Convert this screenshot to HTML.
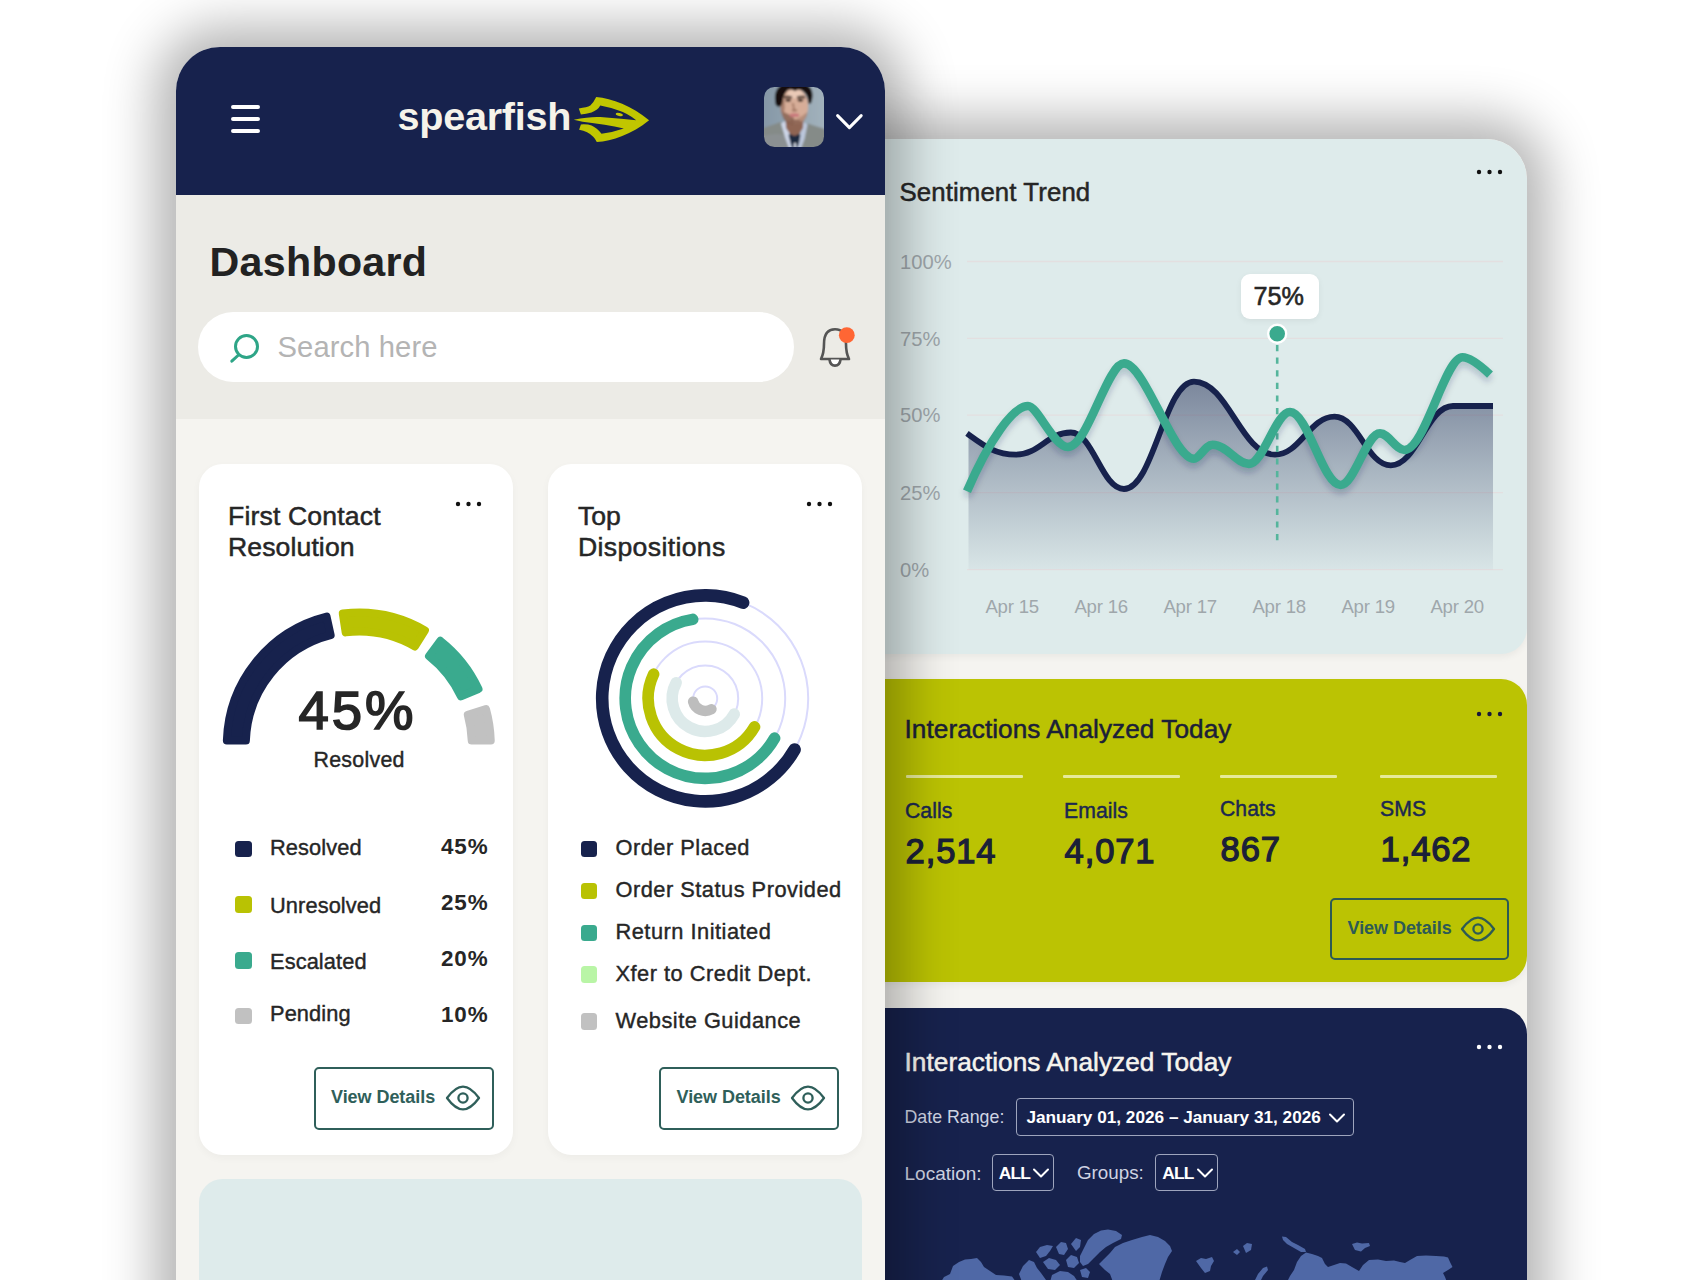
<!DOCTYPE html>
<html lang="en">
<head>
<meta charset="utf-8">
<title>Spearfish Dashboard</title>
<style>
*{box-sizing:border-box;margin:0;padding:0}
html,body{width:1700px;height:1280px;overflow:hidden;background:#fff}
body{font-family:"Liberation Sans",sans-serif;color:#222;position:relative}
.abs{position:absolute}
.t{position:absolute;white-space:nowrap;line-height:1}
#rp{position:absolute;left:760px;top:139px;width:767px;height:1200px;background:#f5f4f0;border-top-right-radius:40px;box-shadow:0 0 52px 20px rgba(0,0,0,.30);overflow:hidden}
#ph{position:absolute;left:176px;top:47px;width:709px;height:1300px;background:#f5f4f0;border-radius:44px 44px 0 0;box-shadow:0 0 52px 20px rgba(0,0,0,.30);overflow:hidden}
</style>
</head>
<body>
<div id="rp">
<div class="abs" style="left:0px;top:0px;width:767px;height:515px;background:#deebeb;border-radius:0 40px 26px 0;box-shadow:0 3px 7px rgba(0,0,0,.05)"></div>
<div class="abs" style="left:0px;top:539.5px;width:767px;height:303.5px;background:#bbc303;border-radius:0 26px 26px 0;box-shadow:0 3px 7px rgba(0,0,0,.05)"></div>
<div class="abs" style="left:0px;top:869px;width:767px;height:392px;background:#17224d;border-radius:0 26px 0 0"></div>
<div class="t" style="left:139.5px;top:41.16px;font-size:25.8px;color:#262626;letter-spacing:0.1px;-webkit-text-stroke:0.5px #262626;">Sentiment Trend</div>
<svg class="abs" style="left:715.1px;top:29px;" width="30" height="8" viewBox="0 0 30 8"><g fill="#111"><circle cx="4" cy="4" r="2.2"/><circle cx="14.5" cy="4" r="2.2"/><circle cx="25" cy="4" r="2.2"/></g></svg>
<div class="t" style="left:140px;top:112.8px;font-size:20.2px;color:#9fa7ab;">100%</div>
<div class="t" style="left:140px;top:189.6px;font-size:20.2px;color:#9fa7ab;">75%</div>
<div class="t" style="left:140px;top:266.4px;font-size:20.2px;color:#9fa7ab;">50%</div>
<div class="t" style="left:140px;top:343.9px;font-size:20.2px;color:#9fa7ab;">25%</div>
<div class="t" style="left:140px;top:420.9px;font-size:20.2px;color:#9fa7ab;">0%</div>
<svg class="abs" style="left:0;top:0" width="767" height="1141" viewBox="760 139 767 1141"><path d="M967 261.5 H1503" stroke="#e3dfe0" stroke-width="1.3"/><path d="M967 338.3 H1503" stroke="#e3dfe0" stroke-width="1.3"/><path d="M967 415.1 H1503" stroke="#e3dfe0" stroke-width="1.3"/><path d="M967 492.6 H1503" stroke="#e3dfe0" stroke-width="1.3"/><path d="M967 569.6 H1503" stroke="#e3dfe0" stroke-width="1.3"/><defs><linearGradient id="ar" x1="0" y1="381" x2="0" y2="569" gradientUnits="userSpaceOnUse"><stop offset="0" stop-color="#17224d" stop-opacity=".50"/><stop offset=".45" stop-color="#17224d" stop-opacity=".28"/><stop offset="1" stop-color="#17224d" stop-opacity=".03"/></linearGradient><filter id="ls" x="-5%" y="-20%" width="110%" height="150%"><feGaussianBlur stdDeviation="3"/></filter></defs><path d="M967 433.4 C984.64 446.18 995.42 454.7 1016 454.7 C1039.02 454.7 1047.78 432.5 1070.8 432.5 C1093.14 432.5 1101.66 489 1124 489 C1153.4 489 1164.6 381.6 1194 381.6 C1228.02 381.6 1240.98 454.7 1275 454.7 C1299.99 454.7 1309.51 416.7 1334.5 416.7 C1358.15 416.7 1367.15 465.4 1390.8 465.4 C1416.92 465.4 1426.88 406 1453 406 H1493 V569.6 H968.5 V433.4 Z" fill="url(#ar)"/><path d="M967 433.4 C984.64 446.18 995.42 454.7 1016 454.7 C1039.02 454.7 1047.78 432.5 1070.8 432.5 C1093.14 432.5 1101.66 489 1124 489 C1153.4 489 1164.6 381.6 1194 381.6 C1228.02 381.6 1240.98 454.7 1275 454.7 C1299.99 454.7 1309.51 416.7 1334.5 416.7 C1358.15 416.7 1367.15 465.4 1390.8 465.4 C1416.92 465.4 1426.88 406 1453 406 H1493" fill="none" stroke="#17224d" stroke-width="5.8" stroke-linejoin="round"/><path d="M1277.2 345 V545" stroke="#55b59c" stroke-width="2.6" stroke-dasharray="6.2 6.4"/><path d="M967 491.3 C988.96 440.12 1013.36 406 1028 406 C1037.55 406 1053.87 447 1067.8 447 C1087.47 447 1107.14 363.4 1124 363.4 C1145 363.4 1173 458.7 1194 458.7 C1199.58 458.7 1205.16 444.7 1212.6 444.7 C1227.16 444.7 1236.26 463.9 1249 463.9 C1263.35 463.9 1275.65 412 1290 412 C1307.71 412 1322.89 485 1340.6 485 C1354.39 485 1366.21 433.4 1380 433.4 C1388.58 433.4 1395.92 450 1404.5 450 C1424.77 450 1445.03 357.3 1462.4 357.3 C1470.68 357.3 1481.72 366.81 1490 374.6" transform="translate(0 5)" fill="none" stroke="#17224d" stroke-opacity=".22" stroke-width="8" filter="url(#ls)"/><path d="M967 491.3 C988.96 440.12 1013.36 406 1028 406 C1037.55 406 1053.87 447 1067.8 447 C1087.47 447 1107.14 363.4 1124 363.4 C1145 363.4 1173 458.7 1194 458.7 C1199.58 458.7 1205.16 444.7 1212.6 444.7 C1227.16 444.7 1236.26 463.9 1249 463.9 C1263.35 463.9 1275.65 412 1290 412 C1307.71 412 1322.89 485 1340.6 485 C1354.39 485 1366.21 433.4 1380 433.4 C1388.58 433.4 1395.92 450 1404.5 450 C1424.77 450 1445.03 357.3 1462.4 357.3 C1470.68 357.3 1481.72 366.81 1490 374.6" fill="none" stroke="#3aaa8e" stroke-width="8.6" stroke-linejoin="round"/><circle cx="1277.2" cy="333.8" r="9" fill="#3aaa8e" stroke="#fff" stroke-width="2.4"/></svg>
<div class="abs" style="left:480.7px;top:134.5px;width:77.9px;height:45.1px;background:#fff;border-radius:9px;box-shadow:0 2px 6px rgba(0,0,0,.06)"></div>
<div class="t" style="left:493.5px;top:145.27px;font-size:25.2px;color:#262626;-webkit-text-stroke:0.6px #262626;">75%</div>
<div class="t" style="left:225.4px;top:459.26px;font-size:18.6px;color:#9fa7ab;letter-spacing:-0.2px;">Apr 15</div>
<div class="t" style="left:314.4px;top:459.26px;font-size:18.6px;color:#9fa7ab;letter-spacing:-0.2px;">Apr 16</div>
<div class="t" style="left:403.4px;top:459.26px;font-size:18.6px;color:#9fa7ab;letter-spacing:-0.2px;">Apr 17</div>
<div class="t" style="left:492.4px;top:459.26px;font-size:18.6px;color:#9fa7ab;letter-spacing:-0.2px;">Apr 18</div>
<div class="t" style="left:581.4px;top:459.26px;font-size:18.6px;color:#9fa7ab;letter-spacing:-0.2px;">Apr 19</div>
<div class="t" style="left:670.4px;top:459.26px;font-size:18.6px;color:#9fa7ab;letter-spacing:-0.2px;">Apr 20</div>
<div class="t" style="left:144.5px;top:577.22px;font-size:26.2px;color:#1b2038;letter-spacing:0.05px;-webkit-text-stroke:0.5px #1b2038;">Interactions Analyzed Today</div>
<svg class="abs" style="left:715.1px;top:571px;" width="30" height="8" viewBox="0 0 30 8"><g fill="#17173a"><circle cx="4" cy="4" r="2.2"/><circle cx="14.5" cy="4" r="2.2"/><circle cx="25" cy="4" r="2.2"/></g></svg>
<div class="abs" style="left:146px;top:635.6px;width:117px;height:3.8px;background:#e6ea9a;border-radius:1px"></div>
<div class="abs" style="left:303px;top:635.6px;width:117px;height:3.8px;background:#e6ea9a;border-radius:1px"></div>
<div class="abs" style="left:460px;top:635.6px;width:116.5px;height:3.8px;background:#e6ea9a;border-radius:1px"></div>
<div class="abs" style="left:620px;top:635.6px;width:117px;height:3.8px;background:#e6ea9a;border-radius:1px"></div>
<div class="t" style="left:145px;top:661.25px;font-size:21.2px;color:#1b2850;letter-spacing:0.05px;-webkit-text-stroke:0.45px #1b2850;">Calls</div>
<div class="t" style="left:145.6px;top:694.91px;font-size:34.6px;color:#1b2038;letter-spacing:0.85px;-webkit-text-stroke:1.25px #1b2038;">2,514</div>
<div class="t" style="left:304px;top:661.25px;font-size:21.2px;color:#1b2850;letter-spacing:0.05px;-webkit-text-stroke:0.45px #1b2850;">Emails</div>
<div class="t" style="left:304.6px;top:694.91px;font-size:34.6px;color:#1b2038;letter-spacing:0.85px;-webkit-text-stroke:1.25px #1b2038;">4,071</div>
<div class="t" style="left:460px;top:659.05px;font-size:21.2px;color:#1b2850;letter-spacing:0.05px;-webkit-text-stroke:0.45px #1b2850;">Chats</div>
<div class="t" style="left:460.6px;top:692.71px;font-size:34.6px;color:#1b2038;letter-spacing:0.85px;-webkit-text-stroke:1.25px #1b2038;">867</div>
<div class="t" style="left:620px;top:659.05px;font-size:21.2px;color:#1b2850;letter-spacing:0.05px;-webkit-text-stroke:0.45px #1b2850;">SMS</div>
<div class="t" style="left:620.6px;top:692.71px;font-size:34.6px;color:#1b2038;letter-spacing:0.85px;-webkit-text-stroke:1.25px #1b2038;">1,462</div>
<div class="abs" style="left:570px;top:758.5px;width:179px;height:62px;border:2px solid #2d5a55;border-radius:5px"></div>
<div class="t" style="left:587.5px;top:779.66px;font-size:18px;color:#2d5a55;font-weight:700;letter-spacing:-0.05px;">View Details</div>
<svg class="abs" style="left:700px;top:775.5px;" width="36" height="28" viewBox="0 0 36 28"><g fill="none" stroke="#2d5a55" stroke-width="2.3" stroke-linejoin="round"><path d="M2 14 C7.5 6.5 12.5 2.6 18 2.6 C23.5 2.6 28.5 6.5 34 14 C28.5 21.5 23.5 25.4 18 25.4 C12.5 25.4 7.5 21.5 2 14 Z"/><circle cx="18" cy="14" r="4.6"/></g></svg>
<div class="t" style="left:144.5px;top:910.32px;font-size:26.2px;color:#f6f4ee;letter-spacing:0.05px;-webkit-text-stroke:0.5px #f6f4ee;">Interactions Analyzed Today</div>
<svg class="abs" style="left:715.1px;top:903.8px;" width="30" height="8" viewBox="0 0 30 8"><g fill="#ffffff"><circle cx="4" cy="4" r="2.2"/><circle cx="14.5" cy="4" r="2.2"/><circle cx="25" cy="4" r="2.2"/></g></svg>
<div class="t" style="left:144.5px;top:969.93px;font-size:17.8px;color:#cfd4e3;">Date Range:</div>
<div class="abs" style="left:256.2px;top:959.2px;width:337.6px;height:37.6px;border:1.6px solid #9ea5bd;border-radius:4px"></div>
<div class="t" style="left:266.5px;top:970.44px;font-size:17.2px;color:#fff;font-weight:700;">January 01, 2026 – January 31, 2026</div>
<svg class="abs" style="left:568px;top:972.5px;" width="18" height="12" viewBox="0 0 18 12"><path d="M2 2.5 L9 9.5 L16 2.5" fill="none" stroke="#fff" stroke-width="2" stroke-linecap="round" stroke-linejoin="round"/></svg>
<div class="t" style="left:144.5px;top:1024.72px;font-size:19px;color:#cfd4e3;">Location:</div>
<div class="abs" style="left:231.8px;top:1014.8px;width:62.4px;height:37.6px;border:1.6px solid #9ea5bd;border-radius:4px"></div>
<div class="t" style="left:238.8px;top:1026.07px;font-size:17.4px;color:#fff;font-weight:700;letter-spacing:-0.9px;">ALL</div>
<svg class="abs" style="left:272px;top:1028px;" width="18" height="12" viewBox="0 0 18 12"><path d="M2 2.5 L9 9.5 L16 2.5" fill="none" stroke="#fff" stroke-width="2" stroke-linecap="round" stroke-linejoin="round"/></svg>
<div class="t" style="left:317px;top:1024.89px;font-size:18.8px;color:#cfd4e3;">Groups:</div>
<div class="abs" style="left:395.4px;top:1014.8px;width:62.8px;height:37.6px;border:1.6px solid #9ea5bd;border-radius:4px"></div>
<div class="t" style="left:402.3px;top:1026.07px;font-size:17.4px;color:#fff;font-weight:700;letter-spacing:-0.9px;">ALL</div>
<svg class="abs" style="left:435.5px;top:1028px;" width="18" height="12" viewBox="0 0 18 12"><path d="M2 2.5 L9 9.5 L16 2.5" fill="none" stroke="#fff" stroke-width="2" stroke-linecap="round" stroke-linejoin="round"/></svg>
<svg class="abs" style="left:0;top:0" width="767" height="1141" viewBox="760 139 767 1141"><g fill="#4f68a6">
<path d="M941 1282 L944 1277 L950 1274 L953 1266 L959 1262 L965 1259.5 L971 1259 L977 1258 L981 1262 L984 1267 L990 1271 L996 1275 L1004 1275.5 L1012 1276.5 L1016 1282 Z"/>
<path d="M1019 1274 L1023 1266 L1029 1260 L1034 1262 L1037 1268 L1041 1273 L1046 1280 L1044 1282 L1022 1282 Z"/>
<path d="M1036 1252 L1040 1247 L1047 1245 L1053 1246 L1050 1251 L1046 1256 L1040 1258 Z"/>
<path d="M1043 1262 L1049 1258 L1056 1260 L1060 1265 L1055 1270 L1048 1269 Z"/>
<path d="M1056 1247 L1061 1242 L1066 1243 L1068 1249 L1064 1255 L1059 1254 Z"/>
<path d="M1066 1260 L1071 1255 L1077 1257 L1079 1263 L1074 1268 L1068 1267 Z"/>
<path d="M1071 1244 L1076 1238 L1081 1240 L1080 1247 L1076 1251 Z"/>
<path d="M1052 1275 L1060 1271 L1068 1272 L1074 1276 L1078 1282 L1050 1282 Z"/>
<path d="M1080 1256 L1084 1248 L1088 1240 L1094 1234 L1101 1230.5 L1108 1229.5 L1116 1231 L1122 1235 L1121 1239 L1113 1243 L1106 1247 L1100 1252 L1094 1258 L1088 1264 L1083 1266 L1080 1262 Z"/>
<path d="M1080 1270 L1086 1268 L1090 1272 L1088 1278 L1082 1277 Z"/>
<path d="M1099 1264 L1104 1259 L1110 1253 L1115 1247 L1123 1243 L1132 1240 L1142 1237 L1150 1235 L1158 1237 L1165 1241 L1170 1246 L1172 1251 L1168 1257 L1165 1264 L1162 1272 L1159 1282 L1113 1282 L1110 1274 L1105 1270 Z"/>
<path d="M1196 1261 L1201 1258 L1206 1259 L1212 1257 L1214 1261 L1211 1266 L1210 1271 L1205 1273 L1201 1268 Z"/>
<path d="M1233 1252 L1237 1249 L1240 1252 L1237 1255 Z"/><path d="M1243 1246 L1247 1243 L1252 1244 L1251 1250 L1246 1253 Z"/>
<path d="M1254 1282 L1258 1274 L1263 1268 L1267 1266.5 L1268 1270 L1263 1276 L1260 1282 Z"/>
<path d="M1282 1236.5 L1286 1237 L1292 1242 L1298 1245 L1305 1249 L1306 1252 L1301 1252 L1294 1248 L1287 1244 L1283 1240 Z"/>
<path d="M1352 1244 L1357 1242.5 L1362 1243.5 L1369 1243 L1370 1246 L1365 1248 L1361 1251.5 L1355 1250 Z"/>
<path d="M1287 1282 L1290 1276 L1294 1270 L1297 1262 L1301 1256 L1306 1252.5 L1312 1254 L1318 1256 L1322 1258 L1325 1264 L1328 1267 L1334 1265 L1340 1263 L1346 1263.5 L1352 1267 L1359 1271 L1363 1265 L1369 1260 L1378 1259.5 L1386 1261 L1394 1260.5 L1400 1262 L1405 1263 L1410 1260 L1417 1256 L1426 1255.5 L1436 1256 L1444 1256.5 L1448 1257.5 L1450 1262 L1452.5 1267 L1448 1270 L1443 1273 L1445 1277 L1447 1282 Z"/>
</g></svg>
</div>
<div id="ph">
<div class="abs" style="left:0px;top:0px;width:709px;height:147.5px;background:#17224d"></div>
<svg class="abs" style="left:51px;top:54px;" width="38" height="36" viewBox="0 0 38 36"><path d="M6 6H31M6 18H31M6 30H31" stroke="#fff" stroke-width="4" stroke-linecap="round"/></svg>
<div class="t" style="left:221.5px;top:50.48px;font-size:39.6px;color:#f6f3ea;font-weight:700;letter-spacing:-0.25px;">spearfish</div>
<svg class="abs" style="left:394px;top:46px;" width="82" height="52" viewBox="0 0 82 52"><g fill="#c1c600"><path d="M8.8 15.5 Q17 14.5 20.3 12.6 Q24 9 26.2 4.1 C42 5.5 62 13 79.1 27.3 C62 41.5 42 48 26.8 49.1 Q24.8 45 23.2 43.8 Q18 38 9.1 36.7 L10.9 31.4 Q18 31 21.5 32.6 Q27 35 31.5 40.8 Q44 39 53.8 35.5 Q36 31.5 12.6 28.8 L3.8 26.7 Q20 23.5 30.3 24.1 L53.8 26.1 L66.2 27.3 Q58 20.5 47.9 17.3 Q40 14.5 30.3 12.6 Q28 17 21.5 19.6 Q16 21.2 10.9 21.4 Z"/><ellipse cx="49.3" cy="21.5" rx="3.6" ry="1.5" transform="rotate(12 49.3 21.5)"/></g></svg>
<svg class="abs" style="left:587.6px;top:40px;" width="60" height="60" viewBox="0 0 60 60"><defs><clipPath id="avc"><rect x="0" y="0" width="60" height="60" rx="10.5"/></clipPath>
<filter id="avb" x="-10%" y="-10%" width="120%" height="120%"><feGaussianBlur stdDeviation="1.0"/></filter>
<linearGradient id="avbg" x1="0" y1="0" x2="1" y2="0"><stop offset="0" stop-color="#8495a5"/><stop offset=".35" stop-color="#8fa1ae"/><stop offset="1" stop-color="#a4b3bd"/></linearGradient></defs>
<g clip-path="url(#avc)"><g filter="url(#avb)">
<rect x="-4" y="-4" width="68" height="68" fill="url(#avbg)"/>
<path d="M-4 64 L-4 42 C2 40 10 37.5 16.5 35 L24 40 L30 56 L37 42 L43.7 36.4 C50 38.5 56 40.5 64 43 L64 64 Z" fill="#858b88"/>
<path d="M-4 64 L-4 50 C8 46 18 46 24 50 L30 64 Z" fill="#90969a" opacity=".55"/>
<path d="M17 36.5 L21 34 L25.5 46 L30.5 58 L29 64 L26 64 L21 50 Z" fill="#cdd6e8"/>
<path d="M43.5 37.5 L39.5 35 L36 47 L32 57 L33 64 L36 64 L40.5 52 Z" fill="#bcc7dc"/>
<path d="M24.5 48 L30.5 44 L36.5 48 L35 56 L32 64 L29 64 L26.5 56 Z" fill="#1c2a40"/>
<path d="M30 56 L32 56 L32.5 64 L29.5 64 Z" fill="#cfd6e2"/>
<path d="M21.5 30 L39.5 30 L39 41 L35 47 L30.5 49 L26 47 L22 41 Z" fill="#8f6553"/>
<ellipse cx="30.5" cy="19" rx="13.6" ry="18" fill="#d7ad98"/>
<ellipse cx="31" cy="7" rx="8" ry="4.5" fill="#e9c9b6"/>
<path d="M17.5 24 C18 31 21 35 26 37 L30.5 37.5 L30 31 L24 27 Z" fill="#7d5a4a" opacity=".75"/>
<path d="M43.5 25 C43 31 40 35 35 37 L30.5 37.5 L31 33 L38 29 Z" fill="#a87f6c" opacity=".7"/>
<ellipse cx="30.5" cy="35" rx="7" ry="2.6" fill="#8a6251" opacity=".8"/>
<ellipse cx="18.6" cy="19" rx="2.2" ry="8" fill="#9c7361" opacity=".8"/>
<ellipse cx="30.4" cy="28.2" rx="5" ry="1.9" fill="#c9787c"/>
<path d="M27.5 16 L29 23 L31.5 24 L30 16 Z" fill="#a87c68" opacity=".8"/>
<ellipse cx="30.5" cy="23.3" rx="3" ry="1.4" fill="#9f725f" opacity=".8"/>
<path d="M11.5 17 C9 4 14 -5 30 -5 C46 -5 51 3 47.5 15 C46.5 17 45 18 44.2 15 C44 10 42 6 38 3.5 C35 2 33 3 31 4 C28 2 25 2 23 4 C20 7 19 11 18 17 C17 20 13 21 11.5 17 Z" fill="#150e0a"/>
<path d="M20 10.6 C22.5 9.6 25.5 9.7 28 10.6 M33 10.6 C35.5 9.7 38.5 9.6 41 10.6" stroke="#20150f" stroke-width="2" fill="none"/>
<ellipse cx="24.2" cy="13.3" rx="2.9" ry="1.45" fill="#2a1d17"/>
<ellipse cx="36.4" cy="13.3" rx="2.9" ry="1.45" fill="#2a1d17"/>
</g></g></svg>
<svg class="abs" style="left:657px;top:63px;" width="34" height="26" viewBox="0 0 34 26"><path d="M4.6 5.6 L16.4 17.6 L28.2 5.6" fill="none" stroke="#fff" stroke-width="3" stroke-linecap="round" stroke-linejoin="round"/></svg>
<div class="abs" style="left:0px;top:147.5px;width:709px;height:224px;background:#ecebe6"></div>
<div class="t" style="left:33.5px;top:195.12px;font-size:41.2px;color:#222;font-weight:700;letter-spacing:0.3px;">Dashboard</div>
<div class="abs" style="left:22px;top:265px;width:595.5px;height:69.5px;background:#fff;border-radius:35px"></div>
<svg class="abs" style="left:50px;top:283px;" width="40" height="40" viewBox="0 0 40 40"><g fill="none" stroke="#2ea587" stroke-width="3" stroke-linecap="round"><circle cx="20.5" cy="16.5" r="11"/><path d="M12.5 25 L5.8 31.2"/></g></svg>
<div class="t" style="left:101.5px;top:285.78px;font-size:29.2px;color:#b4b4b4;letter-spacing:0.1px;">Search here</div>
<svg class="abs" style="left:636px;top:273px;" width="48" height="48" viewBox="0 0 48 48"><g fill="none" stroke="#555" stroke-width="2.6" stroke-linecap="round" stroke-linejoin="round"><path d="M9 39 C11.5 34 12 30 12 24 C12 12.5 17 9.3 23 9.3 C29 9.3 34 12.5 34 24 C34 30 34.5 34 37 39 Z"/><path d="M17.5 39.5 C18 44 20.5 45.6 23 45.6 C25.5 45.6 28 44 28.5 39.5" fill="#fff"/></g><circle cx="34.8" cy="15.2" r="7.9" fill="#ff6634"/></svg>
<div class="abs" style="left:22.5px;top:416.5px;width:314px;height:691px;background:#fff;border-radius:23.5px;box-shadow:0 3px 8px rgba(0,0,0,.035)"></div>
<div class="abs" style="left:371.5px;top:416.5px;width:314px;height:691px;background:#fff;border-radius:23.5px;box-shadow:0 3px 8px rgba(0,0,0,.035)"></div>
<div class="abs" style="left:22.5px;top:1132px;width:663px;height:221px;background:#deebeb;border-radius:23.5px"></div>
<div class="t" style="left:52px;top:455.68px;font-size:26.6px;color:#262626;letter-spacing:0.15px;-webkit-text-stroke:0.5px #262626;">First Contact</div>
<div class="t" style="left:52px;top:487.08px;font-size:26.6px;color:#262626;letter-spacing:0.1px;-webkit-text-stroke:0.5px #262626;">Resolution</div>
<svg class="abs" style="left:278.4px;top:453px;" width="30" height="8" viewBox="0 0 30 8"><g fill="#111"><circle cx="4" cy="4" r="2.2"/><circle cx="14.5" cy="4" r="2.2"/><circle cx="25" cy="4" r="2.2"/></g></svg>
<svg class="abs" style="left:0;top:0" width="709" height="1233" viewBox="176 47 709 1233"><path d="M226.86 740.6 A132 132 0 0 1 326.56 616.6 L330.64 635.16 A113 113 0 0 0 245.87 740.6 Z" fill="#17224d" stroke="#17224d" stroke-width="8" stroke-linejoin="round"/><path d="M342.8 613.57 A132 132 0 0 1 424.93 630.36 L414.91 646.51 A113 113 0 0 0 345.67 632.37 Z" fill="#b9c203" stroke="#b9c203" stroke-width="8" stroke-linejoin="round"/><path d="M440.31 640.78 A132 132 0 0 1 478.49 688.95 L461.02 696.44 A113 113 0 0 0 429.03 656.08 Z" fill="#3aaa8e" stroke="#3aaa8e" stroke-width="8" stroke-linejoin="round"/><path d="M485.96 709.18 A132 132 0 0 1 490.74 740.6 L471.73 740.6 A113 113 0 0 0 467.81 714.84 Z" fill="#c1c1c1" stroke="#c1c1c1" stroke-width="8" stroke-linejoin="round"/></svg>
<div class="t" style="left:122.5px;top:637.07px;font-size:54.5px;color:#262626;letter-spacing:3px;-webkit-text-stroke:1.7px #262626;">45%</div>
<div class="t" style="left:137.5px;top:702.88px;font-size:21.4px;color:#262626;letter-spacing:0.25px;-webkit-text-stroke:0.4px #262626;">Resolved</div>
<div class="abs" style="left:59.2px;top:793.75px;width:16.5px;height:16.5px;background:#17224d;border-radius:3.5px"></div>
<div class="t" style="left:94px;top:790.35px;font-size:21.8px;color:#262626;letter-spacing:0.1px;-webkit-text-stroke:0.4px #262626;">Resolved</div>
<div class="t" style="left:265px;top:789.24px;font-size:22.4px;color:#262626;font-weight:700;letter-spacing:0.9px;">45%</div>
<div class="abs" style="left:59.2px;top:849.45px;width:16.5px;height:16.5px;background:#b9c203;border-radius:3.5px"></div>
<div class="t" style="left:94px;top:847.75px;font-size:21.8px;color:#262626;letter-spacing:0.1px;-webkit-text-stroke:0.4px #262626;">Unresolved</div>
<div class="t" style="left:265px;top:845.24px;font-size:22.4px;color:#262626;font-weight:700;letter-spacing:0.9px;">25%</div>
<div class="abs" style="left:59.2px;top:905.45px;width:16.5px;height:16.5px;background:#3aaa8e;border-radius:3.5px"></div>
<div class="t" style="left:94px;top:903.55px;font-size:21.8px;color:#262626;letter-spacing:0.1px;-webkit-text-stroke:0.4px #262626;">Escalated</div>
<div class="t" style="left:265px;top:900.74px;font-size:22.4px;color:#262626;font-weight:700;letter-spacing:0.9px;">20%</div>
<div class="abs" style="left:59.2px;top:960.95px;width:16.5px;height:16.5px;background:#c1c1c1;border-radius:3.5px"></div>
<div class="t" style="left:94px;top:955.95px;font-size:21.8px;color:#262626;letter-spacing:0.1px;-webkit-text-stroke:0.4px #262626;">Pending</div>
<div class="t" style="left:265px;top:956.64px;font-size:22.4px;color:#262626;font-weight:700;letter-spacing:0.9px;">10%</div>
<div class="abs" style="left:137.5px;top:1019.8px;width:180px;height:63px;border:2px solid #2f5f5a;border-radius:5px"></div>
<div class="t" style="left:155px;top:1040.96px;font-size:18px;color:#2f5f5a;font-weight:700;letter-spacing:-0.05px;">View Details</div>
<svg class="abs" style="left:268.5px;top:1037.3px;" width="36" height="28" viewBox="0 0 36 28"><g fill="none" stroke="#2f5f5a" stroke-width="2.3" stroke-linejoin="round"><path d="M2 14 C7.5 6.5 12.5 2.6 18 2.6 C23.5 2.6 28.5 6.5 34 14 C28.5 21.5 23.5 25.4 18 25.4 C12.5 25.4 7.5 21.5 2 14 Z"/><circle cx="18" cy="14" r="4.6"/></g></svg>
<div class="t" style="left:402px;top:455.68px;font-size:26.6px;color:#262626;-webkit-text-stroke:0.5px #262626;">Top</div>
<div class="t" style="left:402px;top:487.08px;font-size:26.6px;color:#262626;letter-spacing:0.35px;-webkit-text-stroke:0.5px #262626;">Dispositions</div>
<svg class="abs" style="left:629.2px;top:453px;" width="30" height="8" viewBox="0 0 30 8"><g fill="#111"><circle cx="4" cy="4" r="2.2"/><circle cx="14.5" cy="4" r="2.2"/><circle cx="25" cy="4" r="2.2"/></g></svg>
<svg class="abs" style="left:0;top:0" width="709" height="1233" viewBox="176 47 709 1233"><circle cx="705.2" cy="698.4" r="103" fill="none" stroke="#dadafc" stroke-width="2"/><circle cx="705.2" cy="698.4" r="80" fill="none" stroke="#dadafc" stroke-width="2"/><circle cx="705.2" cy="698.4" r="57" fill="none" stroke="#dadafc" stroke-width="2"/><circle cx="705.2" cy="698.4" r="33" fill="none" stroke="#dadafc" stroke-width="2"/><circle cx="705.2" cy="698.4" r="12" fill="none" stroke="#dadafc" stroke-width="2"/><path d="M794.58 749.59 A103 103 0 1 1 743.12 602.63" fill="none" stroke="#17224d" stroke-width="12.6" stroke-linecap="round"/><path d="M774.62 738.16 A80 80 0 1 1 692.69 619.38" fill="none" stroke="#3aaa8e" stroke-width="11.6" stroke-linecap="round"/><path d="M754.56 726.9 A57 57 0 0 1 653.62 674.13" fill="none" stroke="#b9c203" stroke-width="11.6" stroke-linecap="round"/><path d="M734.2 714.15 A33 33 0 0 1 676.17 682.7" fill="none" stroke="#ddeaea" stroke-width="11.6" stroke-linecap="round"/><path d="M711.45 709.23 A12.5 12.5 0 0 1 693.13 701.64" fill="none" stroke="#bdbdbd" stroke-width="10.5" stroke-linecap="round"/></svg>
<div class="abs" style="left:404.7px;top:793.95px;width:16.5px;height:16.5px;background:#17224d;border-radius:3.5px"></div>
<div class="t" style="left:439.5px;top:790.35px;font-size:21.8px;color:#262626;letter-spacing:0.5px;-webkit-text-stroke:0.4px #262626;">Order Placed</div>
<div class="abs" style="left:404.7px;top:835.75px;width:16.5px;height:16.5px;background:#b9c203;border-radius:3.5px"></div>
<div class="t" style="left:439.5px;top:831.75px;font-size:21.8px;color:#262626;letter-spacing:0.5px;-webkit-text-stroke:0.4px #262626;">Order Status Provided</div>
<div class="abs" style="left:404.7px;top:877.75px;width:16.5px;height:16.5px;background:#3aaa8e;border-radius:3.5px"></div>
<div class="t" style="left:439.5px;top:874.05px;font-size:21.8px;color:#262626;letter-spacing:0.5px;-webkit-text-stroke:0.4px #262626;">Return Initiated</div>
<div class="abs" style="left:404.7px;top:919.35px;width:16.5px;height:16.5px;background:#b9f5a6;border-radius:3.5px"></div>
<div class="t" style="left:439.5px;top:916.05px;font-size:21.8px;color:#262626;letter-spacing:0.5px;-webkit-text-stroke:0.4px #262626;">Xfer to Credit Dept.</div>
<div class="abs" style="left:404.7px;top:966.25px;width:16.5px;height:16.5px;background:#c1c1c1;border-radius:3.5px"></div>
<div class="t" style="left:439.5px;top:962.55px;font-size:21.8px;color:#262626;letter-spacing:0.5px;-webkit-text-stroke:0.4px #262626;">Website Guidance</div>
<div class="abs" style="left:483px;top:1019.8px;width:180px;height:63px;border:2px solid #2f5f5a;border-radius:5px"></div>
<div class="t" style="left:500.5px;top:1040.96px;font-size:18px;color:#2f5f5a;font-weight:700;letter-spacing:-0.05px;">View Details</div>
<svg class="abs" style="left:614px;top:1037.3px;" width="36" height="28" viewBox="0 0 36 28"><g fill="none" stroke="#2f5f5a" stroke-width="2.3" stroke-linejoin="round"><path d="M2 14 C7.5 6.5 12.5 2.6 18 2.6 C23.5 2.6 28.5 6.5 34 14 C28.5 21.5 23.5 25.4 18 25.4 C12.5 25.4 7.5 21.5 2 14 Z"/><circle cx="18" cy="14" r="4.6"/></g></svg>
</div>
</body>
</html>
